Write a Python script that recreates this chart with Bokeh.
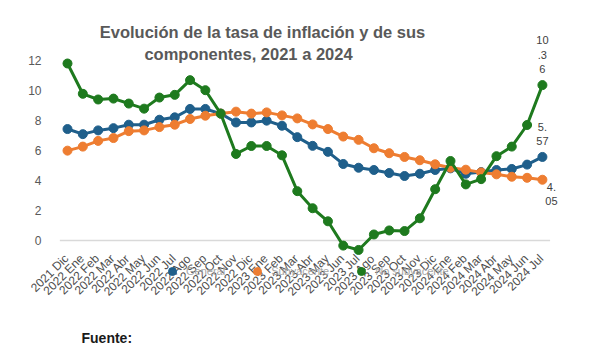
import math
from bokeh.plotting import figure
from bokeh.models import (Range1d, FixedTicker, ColumnDataSource, LabelSet, Label,
                          Legend, LegendItem)
from bokeh.core.properties import value
from bokeh.embed import file_html
from bokeh.resources import INLINE

# ---------------- data ----------------
categories = ["2021 Dic", "2022 Ene", "2022 Feb", "2022 Mar", "2022 Abr", "2022 May",
              "2022 Jun", "2022 Jul", "2022 Ago", "2022 Sep", "2022 Oct", "2022 Nov",
              "2022 Dic", "2023 Ene", "2023 Feb", "2023 Mar", "2023 Abr", "2023 May",
              "2023 Jun", "2023 Jul", "2023 Ago", "2023 Sep", "2023 Oct", "2023 Nov",
              "2023 Dic", "2024 Ene", "2024 Feb", "2024 Mar", "2024 Abr", "2024 May",
              "2024 Jun", "2024 Jul"]

general = [7.43, 7.09, 7.34, 7.49, 7.72, 7.72, 8.05, 8.21, 8.77, 8.77, 8.46, 7.87,
           7.87, 7.99, 7.65, 6.89, 6.31, 5.91, 5.10, 4.85, 4.70, 4.50, 4.30, 4.45,
           4.70, 4.81, 4.45, 4.56, 4.70, 4.77, 5.06, 5.57]

subyacente = [5.99, 6.26, 6.64, 6.83, 7.29, 7.34, 7.56, 7.72, 8.10, 8.32, 8.46, 8.59,
              8.46, 8.54, 8.34, 8.14, 7.74, 7.43, 6.93, 6.71, 6.15, 5.82, 5.57, 5.35,
              5.08, 4.85, 4.72, 4.54, 4.41, 4.25, 4.18, 4.05]

no_subyacente = [11.80, 9.78, 9.40, 9.46, 9.13, 8.79, 9.53, 9.71, 10.69, 10.02, 8.46, 5.77,
                 6.30, 6.30, 5.68, 3.29, 2.15, 1.28, -0.34, -0.63, 0.40, 0.67, 0.63, 1.48,
                 3.42, 5.30, 3.74, 4.09, 5.62, 6.26, 7.70, 10.36]

series_names = ["General", "Subyacente", "No subyacente"]
y_ticks = [0, 2, 4, 6, 8, 10, 12]

title_lines = ["Evolución de la tasa de inflación y de sus", "componentes, 2021 a 2024"]
source_text = "Fuente:"

# ---------------- styles ----------------
colors = ["#1F5F8B", "#EE7D31", "#1E7A1E"]
grey_text = "#595959"
FONT = "Liberation Sans"
FL = 30  # frame left (px)

idx = list(range(len(categories)))

p = figure(width=590, height=352, output_backend="svg", toolbar_location=None,
           x_axis_location=None, y_axis_location="left",
           x_range=Range1d((FL - 67) / 15.32, (590 - 67) / 15.32),
           y_range=Range1d(-7.467, 16.0),
           min_border_left=FL, min_border_right=0, min_border_top=0, min_border_bottom=0)
p.outline_line_color = None
p.grid.visible = False
p.background_fill_color = "white"
p.border_fill_color = "white"

yax = p.yaxis[0]
yax.ticker = FixedTicker(ticks=y_ticks)
yax.axis_line_color = None
yax.major_tick_line_color = None
yax.minor_tick_line_color = None
yax.major_tick_out = 0
yax.major_tick_in = 0
yax.major_label_standoff = -11
yax.major_label_text_font = FONT
yax.major_label_text_font_size = "12px"
yax.major_label_text_color = grey_text

# zero (category axis) line
p.segment(x0=[-0.5], x1=[len(categories) - 0.5], y0=[0], y1=[0],
          line_color="#D9D9D9", line_width=1.5)

legend_items = []
for name, vals, col in zip(series_names, [general, subyacente, no_subyacente], colors):
    src = ColumnDataSource(dict(x=idx, y=vals))
    p.line("x", "y", source=src, line_color=col, line_width=3)
    sc = p.scatter("x", "y", source=src, size=9, marker="circle",
                   fill_color=col, line_color=col)
    legend_items.append(LegendItem(label=name, renderers=[sc]))

# category labels on the zero line
cat_src = ColumnDataSource(dict(x=idx, y=[0] * len(idx), text=categories))
p.add_layout(LabelSet(x="x", y="y", text="text", source=cat_src, angle=math.pi / 4,
                      text_align="right", text_baseline="middle", x_offset=-1, y_offset=-16,
                      text_font=value(FONT), text_font_size=value("12px"),
                      text_color="#4D4D4D"))

legend = Legend(items=legend_items, location=(162 - FL, 71), orientation="horizontal",
                glyph_width=20, glyph_height=20, label_standoff=4, spacing=22,
                padding=0, margin=0, border_line_alpha=0, background_fill_alpha=0,
                label_text_font=FONT, label_text_font_size="11px",
                label_text_color="#A6A6A6")
p.add_layout(legend)

# end-value labels (wrapped as in the reference)
def wrap2(v):
    s = f"{v:.2f}"
    return "\n".join(s[i:i + 2] for i in range(0, len(s), 2))

last = len(categories) - 1
lbl_kw = dict(text_font=FONT, text_font_size="11px", text_color="#404040",
              text_line_height=1.2, text_align="center")
p.add_layout(Label(x=last, y=no_subyacente[-1], text=wrap2(no_subyacente[-1]),
                   text_baseline="bottom", y_offset=10, **lbl_kw))
p.add_layout(Label(x=last, y=general[-1], text=wrap2(general[-1]),
                   text_baseline="bottom", y_offset=10, **lbl_kw))
p.add_layout(Label(x=last, y=subyacente[-1], text=wrap2(subyacente[-1]),
                   text_baseline="top", x_offset=9, y_offset=-1, **lbl_kw))

# title (two lines) and source
ttl_kw = dict(x_units="screen", y_units="screen", text_align="center",
              text_baseline="alphabetic", text_font=FONT, text_font_size="16.5px",
              text_font_style="bold", text_color=grey_text)
p.add_layout(Label(x=262 - FL, y=321, text=title_lines[0], **ttl_kw))
p.add_layout(Label(x=248 - FL, y=299, text=title_lines[1], **ttl_kw))
p.add_layout(Label(x=81 - FL, y=15, x_units="screen", y_units="screen", text=source_text,
                   text_align="left", text_baseline="alphabetic", text_font=FONT,
                   text_font_size="14px", text_font_style="bold", text_color="#1A1A1A"))

open("out.html", "w").write(file_html(p, INLINE))
